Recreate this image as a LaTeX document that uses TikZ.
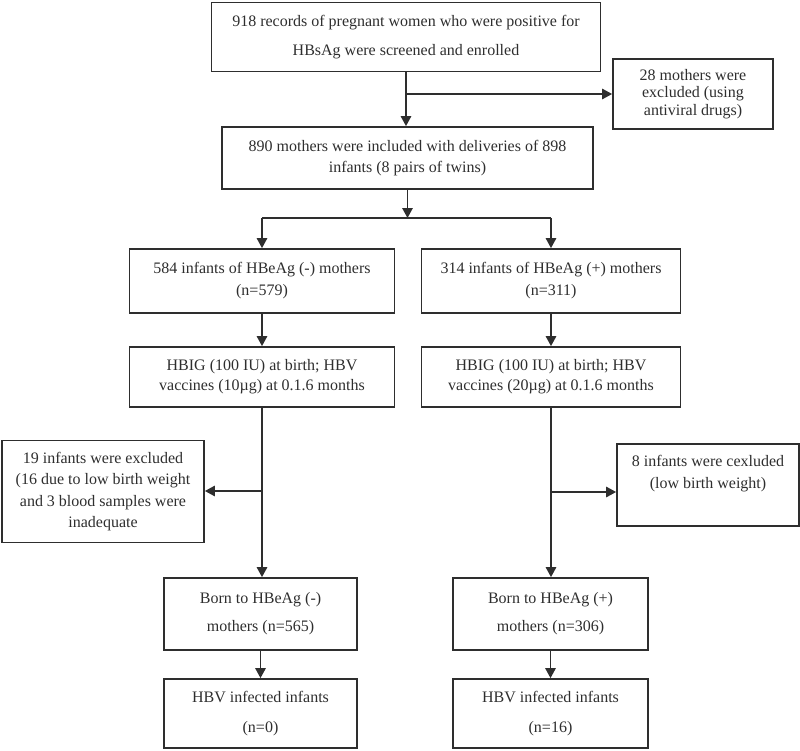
\documentclass[tikz,border=0pt]{standalone}
\usepackage{fontspec}
\setmainfont{Liberation Serif}
\usetikzlibrary{arrows.meta}
\newcommand{\fs}[1]{\fontsize{16}{#1}\selectfont}
\begin{document}
\begin{tikzpicture}[x=1pt,y=-1pt,
  box/.style={draw=black!82,line width=1.8pt,inner sep=0pt,align=center,text=black!82},
  conn/.style={line width=1.4pt,draw=black!82},
  arr/.style={conn,-{Triangle[length=10pt,width=10.5pt]}}]
\useasboundingbox (0,0) rectangle (800,750);
\node[box,minimum width=389,minimum height=69,font=\fs{29}] (top) at (406,37) {918 records of pregnant women who were positive for\\HBsAg were screened and enrolled};
\node[box,minimum width=160,minimum height=70,font=\fs{17.5}] (ex1) at (693,94) {28 mothers were\\excluded (using\\antiviral drugs)};
\node[box,minimum width=371,minimum height=62,font=\fs{21}] (n890) at (407.5,158) {890 mothers were included with deliveries of 898\\infants (8 pairs of twins)};
\node[box,minimum width=265,minimum height=64,font=\fs{22}] (L584) at (262,281) {584 infants of HBeAg (-) mothers\\(n=579)};
\node[box,minimum width=259,minimum height=64,font=\fs{22}] (R314) at (551,281) {314 infants of HBeAg (+) mothers\\(n=311)};
\node[box,minimum width=265,minimum height=60,font=\fs{20}] (Lhbig) at (262,377) {HBIG (100 IU) at birth; HBV\\vaccines (10µg) at 0.1.6 months};
\node[box,minimum width=259,minimum height=60,font=\fs{20}] (Rhbig) at (551,377) {HBIG (100 IU) at birth; HBV\\vaccines (20µg) at 0.1.6 months};
\node[box,minimum width=202,minimum height=102,font=\fs{21.6}] (ex2L) at (103,491.5) {19 infants were excluded\\(16 due to low birth weight\\and 3 blood samples were\\inadequate};
\node[box,minimum width=182,minimum height=82] (ex2R) at (708,485) {};
\node[align=center,text=black!82,font=\fs{22},inner sep=0pt] (ex2Rt) at (708,474) {8 infants were cexluded\\(low birth weight)};
\node[box,minimum width=193,minimum height=72,font=\fs{28}] (Lborn) at (260.5,614) {Born to HBeAg (-)\\mothers (n=565)};
\node[box,minimum width=195,minimum height=72,font=\fs{28}] (Rborn) at (550.5,614) {Born to HBeAg (+)\\mothers (n=306)};
\node[box,minimum width=193,minimum height=69,font=\fs{30}] (Lhbv) at (260.5,713.5) {HBV infected infants\\(n=0)};
\node[box,minimum width=195,minimum height=69,font=\fs{30}] (Rhbv) at (550.5,713.5) {HBV infected infants\\(n=16)};
% connectors
\coordinate (b1) at (top.south |- ex1.west);
\draw[arr] (top.south) -- (top.south |- n890.north);
\draw[arr] (b1) -- (ex1.west);
\coordinate (s) at (n890.south |- 0,218);
\coordinate (sl) at (L584.north |- s);
\coordinate (sr) at (R314.north |- s);
\draw[arr] (n890.south) -- (s);
\draw[conn] (sl) -- (sr);
\draw[arr] (sl) -- (L584.north);
\draw[arr] (sr) -- (R314.north);
\draw[arr] (L584.south) -- (Lhbig.north);
\draw[arr] (R314.south) -- (Rhbig.north);
\draw[arr] (Lhbig.south) -- (Lhbig.south |- Lborn.north);
\draw[arr] (Rhbig.south) -- (Rhbig.south |- Rborn.north);
\coordinate (bl) at (Lhbig.south |- 0,491);
\coordinate (br) at (Rhbig.south |- 0,492);
\draw[arr] (bl) -- (bl -| ex2L.east);
\draw[arr] (br) -- (br -| ex2R.west);
\draw[arr] (Lborn.south) -- (Lhbv.north);
\draw[arr] (Rborn.south) -- (Rhbv.north);
\end{tikzpicture}
\end{document}
